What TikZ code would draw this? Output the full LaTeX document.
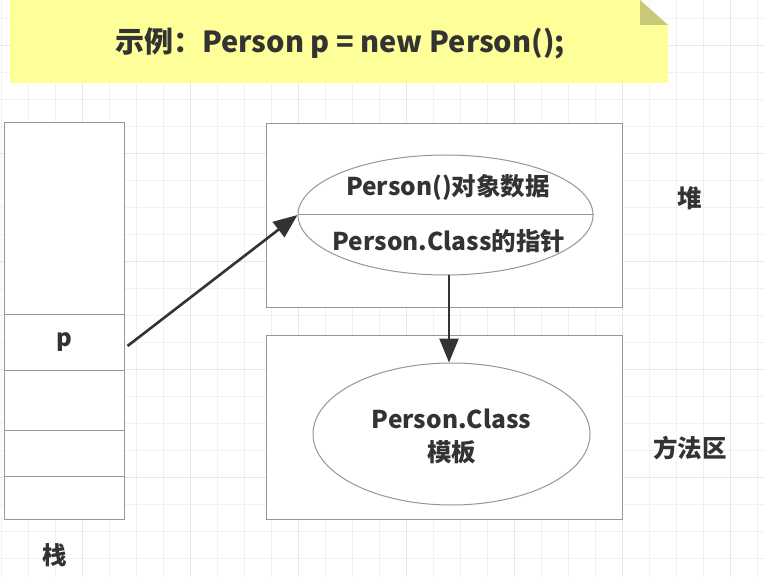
\documentclass[tikz,border=0pt]{standalone}
\usepackage{fontspec}
\setmainfont{Noto Sans CJK SC}
\usetikzlibrary{shapes.geometric,arrows.meta}
\definecolor{notefill}{HTML}{FFFF99}
\definecolor{notefold}{HTML}{C9C97A}
\definecolor{linegray}{HTML}{969696}
\definecolor{ink}{HTML}{333333}
\begin{document}
\begin{tikzpicture}
	[x = 1pt, y = -1pt,
	grid/.style = {draw = gray!11, line width = 0.8pt},
	majorgrid/.style = {draw = gray!19, line width = 0.8pt},
	box/.style = {draw = linegray, line width = 1pt, fill = white, minimum width = 356pt, inner sep = 0pt},
	cell/.style = {draw = linegray, line width = 1pt, fill = white, minimum width = 120pt, inner sep = 0pt, font = \fontsize{24}{27}\selectfont\bfseries, text = ink},
	blob/.style = {ellipse, draw = linegray, line width = 1pt, fill = white, inner sep = 0pt},
	txt/.style = {font = \fontsize{24.5}{33}\selectfont\bfseries, text = ink, inner sep = 0pt, align = center},
	arrow/.style = {draw = ink, line width = 2.6pt, -{Triangle[length = 24pt, width = 19pt]}}]
	\useasboundingbox (0,0) rectangle (765,577);
	\fill[white] (0,0) rectangle (765,577);
	% background grid
	\foreach \x in {1,28,...,757}
		\draw [grid] (\x,0) -- (\x,577);
	\foreach \y in {18,45,...,577}
		\draw [grid] (0,\y) -- (765,\y);
	\foreach \x in {82,190,...,730}
		\draw [majorgrid] (\x,0) -- (\x,577);
	\foreach \y in {45,153,...,577}
		\draw [majorgrid] (0,\y) -- (765,\y);
	% note
	\fill [notefill] (10,0) -- (640,0) -- (668,25) -- (668,83) -- (10,83) -- cycle;
	\fill [notefold] (640,0) -- (640,25) -- (668,25) -- cycle;
	\node [txt, font = \fontsize{29}{32}\selectfont\bfseries] (title) at (340,43) {示例：Person p = new Person();};
	% stack
	\foreach \n/\y/\h/\t in {s1/218.5/191/{}, s2/342/56/p, s3/400/60/{}, s4/453/46/{}, s5/497.5/43/{}}
		\node [cell, minimum height = \h pt] (\n) at (64,\y) {\t};
	\node [txt] (stack) at (55,555) {栈};
	% heap and method area
	\node [box, minimum height = 183pt] (heap) at (444,215.5) {};
	\node [box, minimum height = 184pt] (method) at (444,427) {};
	\node [txt] (heaplbl) at (690,198) {堆};
	\node [txt] (methodlbl) at (690,448) {方法区};
	\node [blob, minimum width = 295pt, minimum height = 120pt] (obj) at (445.5,215) {};
	\draw [draw = linegray, line width = 1pt] (obj.west) -- (obj.east);
	\node [txt] (objdata) at (448,187) {Person()对象数据};
	\node [txt] (objptr) at (449,241) {Person.Class的指针};
	\node [blob, minimum width = 277pt, minimum height = 142pt] (tpl) at (451.5,434) {};
	\node [txt] (tpltext) at (451.5,436) {Person.Class\\模板};
	% references
	\draw [arrow] ([xshift = 3pt, yshift = -4pt]s2.east) -- (obj.west);
	\draw [arrow] (449,275) coordinate (ptr) -- (ptr |- tpl.north);
\end{tikzpicture}
\end{document}
